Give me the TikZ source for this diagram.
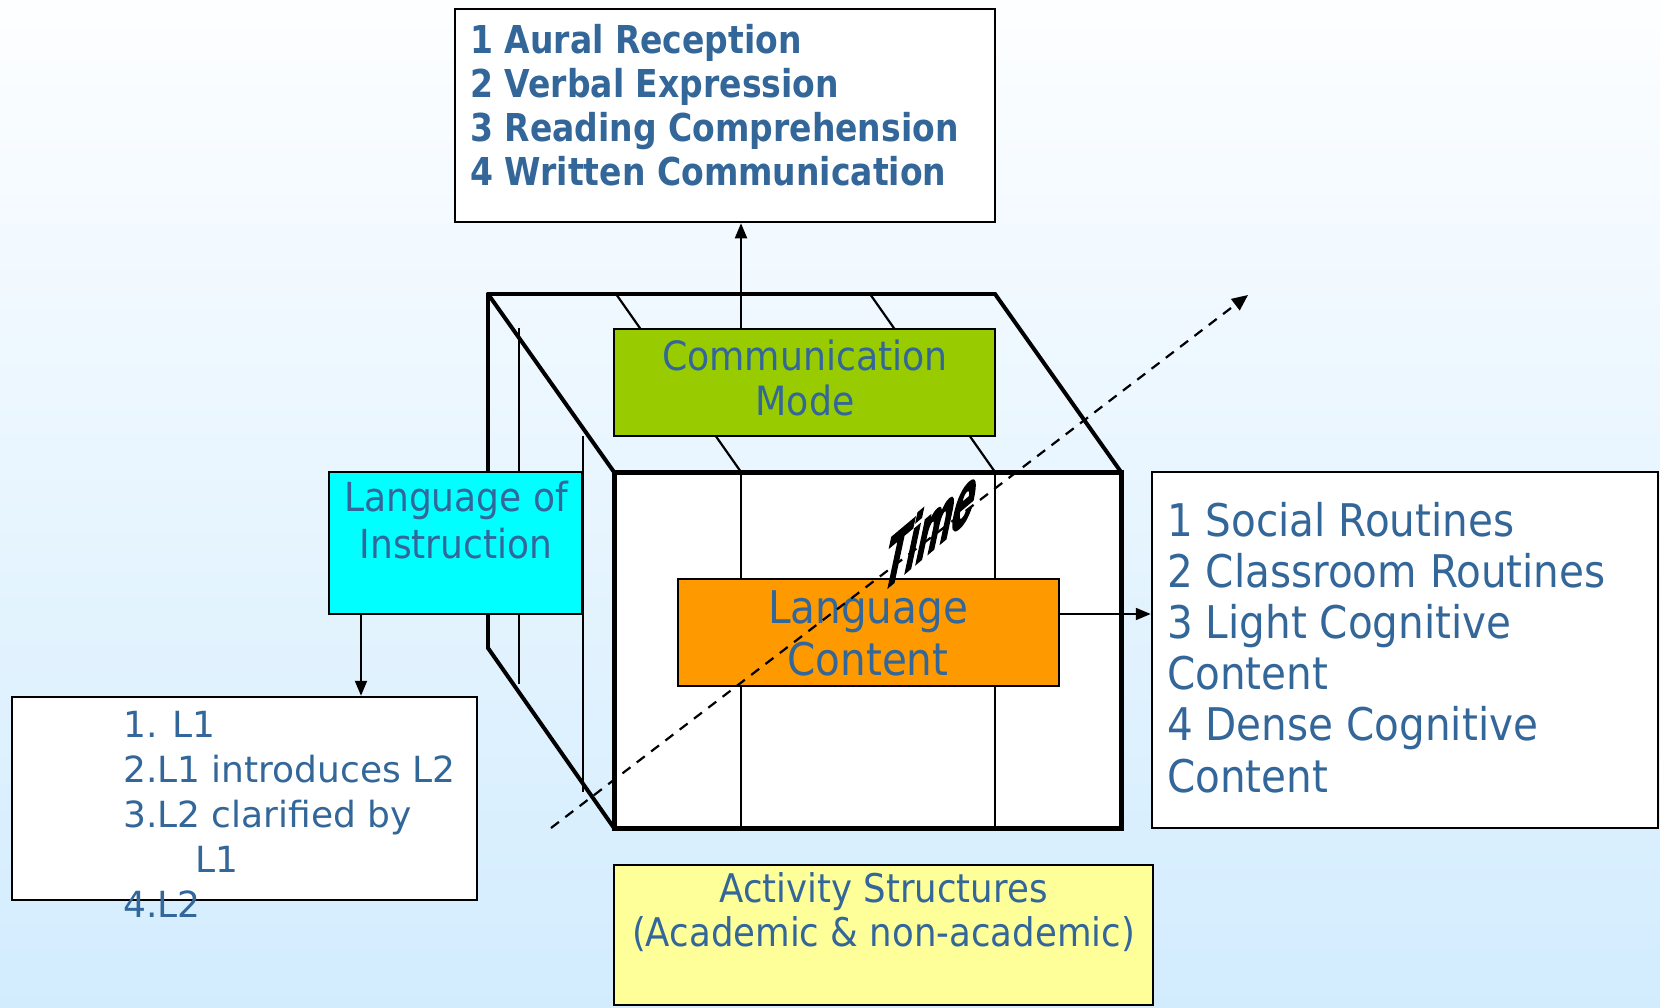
\documentclass[tikz,border=0pt]{standalone}
\usepackage{fontspec}
\setmainfont{DejaVu Sans}
\newfontfamily\fa[FakeStretch=0.9]{DejaVu Sans}
\newfontfamily\fb[FakeStretch=0.86]{DejaVu Sans}
\newfontfamily\fc{DejaVu Sans}
\newfontfamily\ft[FakeBold=4]{Liberation Sans Bold}
\usetikzlibrary{arrows.meta}
\definecolor{txt}{RGB}{51,102,153}
\definecolor{bgtop}{RGB}{253,254,255}
\definecolor{bgbot}{RGB}{210,236,254}
\definecolor{cgreen}{RGB}{153,204,0}
\definecolor{ccyan}{RGB}{0,255,255}
\definecolor{corange}{RGB}{255,153,0}
\definecolor{cyellow}{RGB}{255,255,153}
\begin{document}
\begin{tikzpicture}[x=1pt,y=-1pt,
  box/.style={draw=black, line width=2.5pt, inner sep=0pt, fill=white},
  tx/.style={inner sep=0pt, text=txt},
  arr/.style={line width=2pt, -{Triangle[length=15pt,width=12pt]}},
  cubeedge/.style={line width=4pt, line cap=round, line join=round},
  cubeline/.style={line width=2.2pt},
  timearr/.style={line width=2.2pt, dash pattern=on 10pt off 8pt, -{Triangle[length=16pt,width=14pt]}}
]
% background
\shade[top color=bgtop, bottom color=bgbot] (0,0) rectangle (1660,1007);
\useasboundingbox (0,0) rectangle (1660,1007);

% cube: back edges and side face
\draw[cubeedge] (488,648) -- (488,294) -- (995,294);
\draw[cubeedge] (488,294) -- (614,472);
\draw[cubeedge] (995,294) -- (1121,472);
\draw[cubeedge] (488,648) -- (614,828);
\draw[cubeline] (519,328) -- (519,684);
\draw[cubeline] (583,436) -- (583,792);
% top face lines
\draw[cubeline] (616,294) -- (741,472);
\draw[cubeline] (870,294) -- (995,472);
% front face
\draw[line width=5pt, fill=white] (614,472) rectangle (1121,828);
\draw[cubeline] (741,472) -- (741,828);
\draw[cubeline] (995,472) -- (995,828);

% boxes
\node[box, minimum width=540pt, minimum height=213pt] (top) at (725,115.5) {};
\node[box, minimum width=506pt, minimum height=356pt] (right) at (1405,650) {};
\node[box, minimum width=465pt, minimum height=203pt] (ll) at (244.5,798.5) {};
\node[box, fill=cgreen, minimum width=381pt, minimum height=107pt] (comm) at (804.5,382.5) {};
\node[box, fill=ccyan, minimum width=253pt, minimum height=142pt] (loi) at (455.5,543) {};
\node[box, fill=corange, minimum width=381pt, minimum height=107pt] (lc) at (868.5,632.5) {};
\node[box, fill=cyellow, minimum width=539pt, minimum height=140pt] (act) at (883.5,935) {};

% texts
\node[tx, anchor=base west, font={\fb\bfseries\fontsize{38.4}{44.3}\selectfont}] (toptxt) at (470,53)
  {\begin{tabular}[t]{@{}l@{}}1 Aural Reception\\2 Verbal Expression\\3 Reading Comprehension\\4 Written Communication\end{tabular}};
\node[tx, anchor=base west, font={\fa\fontsize{45}{51.2}\selectfont}] (righttxt) at (1167,536)
  {\begin{tabular}[t]{@{}l@{}}1 Social Routines\\2 Classroom Routines\\3 Light Cognitive\\Content\\4 Dense Cognitive\\Content\end{tabular}};
\node[tx, anchor=base west, font={\fc\fontsize{36}{45}\selectfont}] (lltxt) at (123,737)
  {\begin{tabular}[t]{@{}l@{}}1. L1\\2.L1 introduces L2\\3.L2 clarified by\\\hspace*{72pt}L1\\4.L2\end{tabular}};
\node[tx, anchor=base, font={\fa\fontsize{40.3}{45}\selectfont}] (commtxt) at (805,370)
  {\begin{tabular}[t]{@{}c@{}}Communication\\Mode\end{tabular}};
\node[tx, anchor=base, font={\fa\fontsize{40}{47}\selectfont}] (loitxt) at (456,511)
  {\begin{tabular}[t]{@{}c@{}}Language of\\Instruction\end{tabular}};
\node[tx, anchor=base, font={\fa\fontsize{45}{52}\selectfont}] (lctxt) at (868,623)
  {\begin{tabular}[t]{@{}c@{}}Language\\Content\end{tabular}};
\node[tx, anchor=base, font={\fa\fontsize{39.5}{44}\selectfont}] (acttxt) at (883.5,902)
  {\begin{tabular}[t]{@{}c@{}}Activity Structures\\(Academic \& non-academic)\end{tabular}};

% connectors
\coordinate (ax) at (741,0);
\coordinate (bx) at (361,0);
\coordinate (cy) at (0,614);
\draw[arr] (comm.north -| ax) -- (top.south -| ax);
\draw[arr] (loi.south -| bx) -- (ll.north -| bx);
\draw[arr] (lc.east |- cy) -- (right.west |- cy);

% time axis
\coordinate (t0) at (551,828);
\coordinate (t1) at (1248,295);
\draw[timearr] (t0) -- (t1);
\begin{scope}[shift={(931,527)}, cm={0.728,0.611,0.322,1.516,(0,0)}]
  \node[transform shape, inner sep=0pt, font={\ft\fontsize{54}{54}\selectfont}] (time) at (0,0) {Time};
\end{scope}
\end{tikzpicture}
\end{document}
